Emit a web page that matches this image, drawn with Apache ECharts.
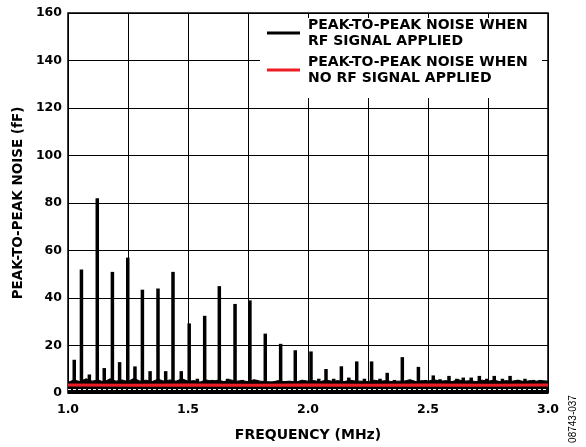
<!DOCTYPE html>
<html><head><meta charset="utf-8">
<script src="https://cdn.jsdelivr.net/npm/echarts@6/dist/echarts.min.js"></script>
<style>html,body{margin:0;padding:0;background:#fff}#c{width:586px;height:447px}</style>
</head><body><div id="c"></div>
<script>
// Spikes of the RF-applied trace: frequency (MHz) and peak-to-peak noise (fF)
const spikeFreq = [1.026,1.056,1.089,1.122,1.151,1.185,1.215,1.249,1.279,1.310,1.342,1.375,1.407,1.4375,1.472,1.505,1.539,1.5695,1.601,1.6305,1.665,1.696,1.726,1.758,1.786,1.822,1.849,1.886,1.918,1.947,1.980,2.0125,2.045,2.075,2.107,2.139,2.170,2.203,2.235,2.265,2.300,2.330,2.360,2.393,2.425,2.460,2.490,2.522,2.550,2.5875,2.620,2.647,2.680,2.714,2.745,2.776,2.810,2.842,2.875,2.904,2.940,2.967];
const spikeVal  = [14,52,7.8,82,10.5,51,13,57,11.2,43.5,9.2,44,9.2,51,9.2,29.3,6,32.5,5.5,45,6,37.5,5.5,39,5.5,25,4.8,20.7,5,18,4.8,17.5,6,10.1,6,11.25,6.5,13.3,6,13.3,6,8.5,5.5,15.1,5.5,11,5.5,7.4,5.8,7.2,6,6.5,6.5,7.2,6,7.2,6,7.2,5.5,6,5.5,5.5];
// Noise floor of the RF-applied trace
const floorFreq = [1.000,1.025,1.050,1.075,1.100,1.125,1.150,1.175,1.200,1.225,1.250,1.275,1.300,1.325,1.350,1.375,1.400,1.425,1.450,1.475,1.500,1.525,1.550,1.575,1.600,1.625,1.650,1.675,1.700,1.725,1.750,1.775,1.800,1.825,1.850,1.875,1.900,1.925,1.950,1.975,2.000,2.025,2.050,2.075,2.100,2.125,2.150,2.175,2.200,2.225,2.250,2.275,2.300,2.325,2.350,2.375,2.400,2.425,2.450,2.475,2.500,2.525,2.550,2.575,2.600,2.625,2.650,2.675,2.700,2.725,2.750,2.775,2.800,2.825,2.850,2.875,2.900,2.925,2.950,2.975,3.000];
const floorVal  = [4.5,5.5,4.8,6,5,5.5,4.6,6,5,5.5,4.8,6.2,5,5.4,4.8,5.8,5,5.5,5,6,5,5.2,4.6,5.5,5,5.4,4.8,5.6,5,5.2,4.8,5.6,5,4.8,4.6,5.2,4.8,5,4.6,5.4,5,5.2,4.8,5.4,5,5.2,4.8,5.4,5,5,4.8,5.4,5,5.2,4.8,5,5,5.6,4.8,5.2,5,5.6,5,5.2,4.8,5.6,5,5.2,4.8,5.4,5,5.4,4.8,5.2,5,5.4,4.8,5.2,5,5.2,5];
// No-RF trace
const redFreq = [1.0,1.25,1.5,1.75,2.0,2.25,2.5,2.75,3.0];
const redVal  = [3.4,3.3,3.4,3.3,3.4,3.3,3.4,3.3,3.4];
const yTicks = {min:0, max:160, step:20};
const xTicks = {min:1.0, max:3.0, step:0.25};
const nameRF = 'PEAK-TO-PEAK NOISE WHEN\nRF SIGNAL APPLIED';
const nameNoRF = 'PEAK-TO-PEAK NOISE WHEN\nNO RF SIGNAL APPLIED';

const font = '"DejaVu Sans", sans-serif';
const chart = echarts.init(document.getElementById('c'), null, {renderer:'canvas'});
chart.setOption({
  animation:false,
  backgroundColor:'#fff',
  grid:{left:68, right:38, top:13, bottom:50, show:true, borderColor:'#000', borderWidth:1.5, z:5},
  xAxis:{type:'value', min:xTicks.min, max:xTicks.max, interval:xTicks.step,
    name:'FREQUENCY (MHz)', nameLocation:'middle', nameGap:35,
    nameTextStyle:{fontFamily:font, fontWeight:'bold', fontSize:14, color:'#000'},
    axisLine:{show:false}, axisTick:{show:false},
    axisLabel:{margin:10, fontFamily:font, fontWeight:'bold', fontSize:12.5, color:'#000',
      formatter:v=>(Math.round(v*100)%50===0 ? v.toFixed(1) : '')},
    splitLine:{show:true, lineStyle:{color:'#000', width:1}}},
  yAxis:{type:'value', min:yTicks.min, max:yTicks.max, interval:yTicks.step,
    name:'PEAK-TO-PEAK NOISE (fF)', nameLocation:'middle', nameGap:43, nameRotate:90,
    nameTextStyle:{fontFamily:font, fontWeight:'bold', fontSize:13.5, color:'#000'},
    axisLine:{show:false}, axisTick:{show:false},
    axisLabel:{margin:6, fontFamily:font, fontWeight:'bold', fontSize:12.5, color:'#000'},
    splitLine:{show:true, lineStyle:{color:'#000', width:1}}},
  legend:{left:267, top:9, padding:0, orient:'vertical', itemGap:-11, itemWidth:33, itemHeight:3, z:20,
    selectedMode:false,
    textStyle:{fontFamily:font, fontWeight:'bold', fontSize:14, lineHeight:16, color:'#000', padding:[16,0,0,3]},
    data:[{name:nameRF, icon:'rect', itemStyle:{color:'#000'}},
          {name:nameNoRF, icon:'rect', itemStyle:{color:'#ee1c25'}}]},
  graphic:[
    {type:'rect', shape:{x:260, y:18, width:282, height:80}, style:{fill:'#fff'}, z:15},
    {type:'text', x:573, y:419, rotation:Math.PI/2, z:20,
      style:{text:'08743-037', fontFamily:'"Liberation Sans", Arial, sans-serif', fontSize:10, fill:'#000', align:'center', verticalAlign:'middle'}}
  ],
  series:[
    {name:nameRF, type:'line', data:floorFreq.map((f,i)=>[f,floorVal[i]]), showSymbol:false, symbol:'none',
      lineStyle:{color:'#000', width:1}, itemStyle:{color:'#000'}, areaStyle:{color:'#000', opacity:1}, z:3,
      markLine:{silent:true, symbol:'none', label:{show:false}, data:[{yAxis:1.6}],
        lineStyle:{color:'#fff', type:[3,2], width:1}}},
    {name:nameRF, type:'bar', data:spikeFreq.map((f,i)=>[f,spikeVal[i]]), barWidth:3.5,
      itemStyle:{color:'#000'}, z:3},
    {name:nameNoRF, type:'line', data:redFreq.map((f,i)=>[f,redVal[i]]), showSymbol:false, symbol:'none',
      lineStyle:{color:'#ee1c25', width:3}, itemStyle:{color:'#ee1c25'}, z:6}
  ]
});
</script></body></html>
